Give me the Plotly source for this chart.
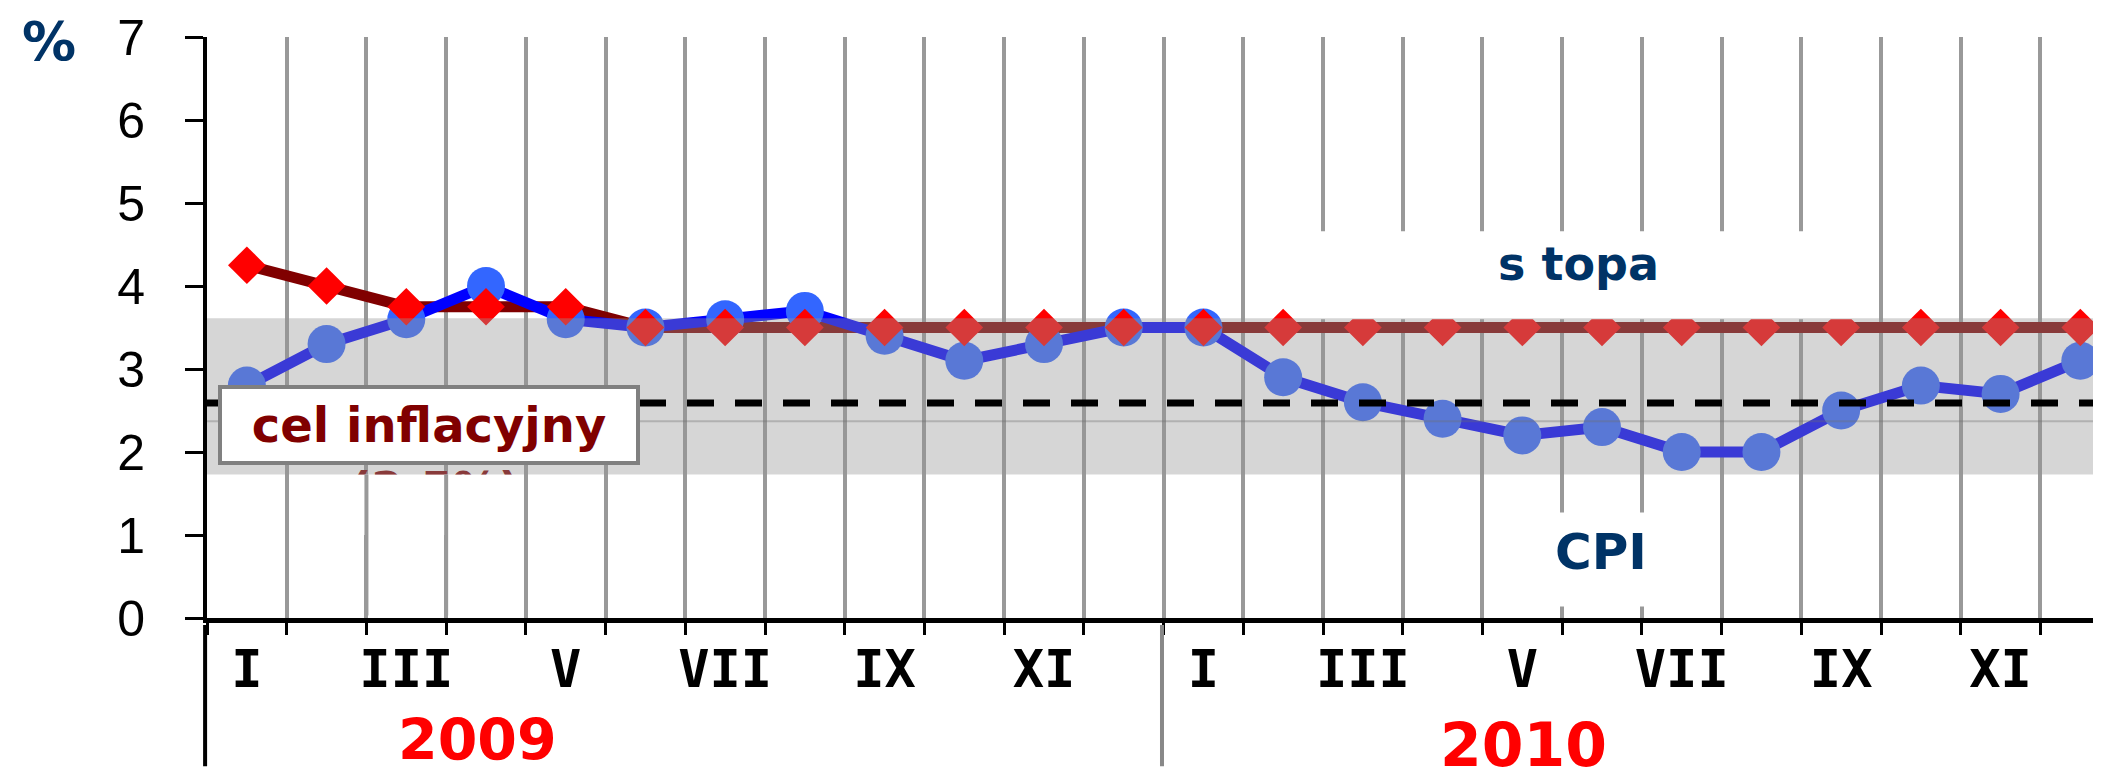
import plotly.graph_objects as go

# ---------------- data ----------------
months = ["I", "II", "III", "IV", "V", "VI", "VII", "VIII", "IX", "X", "XI", "XII"] * 2
cpi = [2.8, 3.3, 3.6, 4.0, 3.6, 3.5, 3.6, 3.7, 3.4, 3.1, 3.3, 3.5,
       3.5, 2.9, 2.6, 2.4, 2.2, 2.3, 2.0, 2.0, 2.5, 2.8, 2.7, 3.1]
stopa = [4.25, 4.0, 3.75, 3.75, 3.75, 3.5, 3.5, 3.5, 3.5, 3.5, 3.5, 3.5,
         3.5, 3.5, 3.5, 3.5, 3.5, 3.5, 3.5, 3.5, 3.5, 3.5, 3.5, 3.5]
tick_idx = [0, 2, 4, 6, 8, 10, 12, 14, 16, 18, 20, 22]
tick_labels = [months[i] for i in tick_idx]
years = ["2009", "2010"]
target = 2.59          # dashed inflation-target line as drawn
band_low, band_high = 1.73, 3.61
band_split = 2.37
y_ticks = [0, 1, 2, 3, 4, 5, 6, 7]

x = list(range(len(cpi)))
XMAX = 23.36

NAVY = "#003366"
DARKRED = "#800000"

fig = go.Figure()
fig.add_trace(go.Scatter(x=x, y=stopa, mode="lines",
                         line=dict(color=DARKRED, width=11), hoverinfo="skip"))
fig.add_trace(go.Scatter(x=x, y=cpi, mode="lines+markers",
                         line=dict(color="#0000FF", width=11),
                         marker=dict(symbol="circle", size=38, color="#3366FF")))
fig.add_trace(go.Scatter(x=x, y=stopa, mode="markers",
                         marker=dict(symbol="diamond", size=29, color="#FF0000")))
# partially hidden "(2,5%)" text
fig.add_trace(go.Scatter(x=[2.36], y=[1.50], mode="text", text=["(2,5%)"],
                         textposition="middle center",
                         textfont=dict(family="DejaVu Sans", size=46,
                                       color=DARKRED, weight="bold"),
                         hoverinfo="skip"))

shapes = [
    # white background behind "stopa"
    dict(type="rect", xref="x", yref="y", x0=13.23, x1=20.25, y0=3.60, y1=4.66,
         fillcolor="white", line=dict(width=0), layer="above"),
    # white background behind "CPI"
    dict(type="rect", xref="x", yref="y", x0=15.57, x1=18.33, y0=0.14, y1=1.27,
         fillcolor="white", line=dict(width=0), layer="above"),
    # white cover hiding the lower part of "(2,5%)"
    dict(type="rect", xref="x", yref="y", x0=1.15, x1=3.45, y0=1.0, y1=band_low,
         fillcolor="white", line=dict(width=0), layer="above"),
    dict(type="line", xref="x", yref="y", x0=1.5, x1=1.5, y0=0.03, y1=band_low,
         line=dict(color="#999999", width=4), layer="above"),
    dict(type="line", xref="x", yref="y", x0=2.5, x1=2.5, y0=0.03, y1=band_low,
         line=dict(color="#999999", width=4), layer="above"),
    # tolerance band
    dict(type="rect", xref="x", yref="y", x0=-0.5, x1=XMAX + 1, y0=band_low, y1=band_high,
         fillcolor="rgb(150,150,150)", opacity=0.39, line=dict(width=0), layer="above"),
    dict(type="line", xref="x", yref="y", x0=-0.5, x1=XMAX + 1, y0=band_split, y1=band_split,
         line=dict(color="rgba(110,110,110,0.35)", width=2), layer="above"),
    # inflation target
    dict(type="line", xref="x", yref="y", x0=-0.5, x1=XMAX + 1, y0=target, y1=target,
         line=dict(color="black", width=7, dash="27px,21px"), layer="above"),
    # year separators under the axis
    dict(type="line", xref="paper", yref="paper", x0=-0.001, x1=-0.001, y0=-0.012, y1=-0.255,
         line=dict(color="black", width=4), layer="above"),
    dict(type="line", xref="x", yref="paper", x0=11.48, x1=11.48, y0=-0.012, y1=-0.255,
         line=dict(color="#888888", width=4), layer="above"),
]

bold = dict(family="DejaVu Sans", weight="bold")
annotations = [
    dict(x=16.70, y=4.27, xref="x", yref="y", text="s topa", showarrow=False,
         xanchor="center", yanchor="middle",
         font=dict(**bold, size=46, color=NAVY)),
    dict(x=16.99, y=0.80, xref="x", yref="y", text="CPI", showarrow=False,
         xanchor="center", yanchor="middle",
         font=dict(**bold, size=50, color=NAVY)),
    dict(x=2.28, y=2.33, xref="x", yref="y", text="cel inflacyjny", showarrow=False,
         xanchor="center", yanchor="middle",
         font=dict(**bold, size=48, color=DARKRED),
         bgcolor="white", bordercolor="#808080", borderwidth=4, borderpad=0,
         width=414, height=72),
    dict(x=-0.083, y=1.0499, xref="paper", yref="paper", text="%", showarrow=False,
         xanchor="center", yanchor="top",
         font=dict(**bold, size=54, color=NAVY)),
    dict(x=2.89, y=-0.210, xref="x", yref="paper", text=years[0], showarrow=False,
         xanchor="center", yanchor="middle",
         font=dict(**bold, size=57, color="#FF0000")),
    dict(x=16.01, y=-0.2186, xref="x", yref="paper", text=years[1], showarrow=False,
         xanchor="center", yanchor="middle",
         font=dict(**bold, size=60, color="#FF0000")),
]

fig.update_layout(
    width=2101, height=780,
    margin=dict(l=199, r=0, t=29, b=170, pad=0),
    paper_bgcolor="white", plot_bgcolor="white",
    showlegend=False,
    shapes=shapes, annotations=annotations,
    xaxis=dict(range=[-0.5, XMAX], tickmode="array", tickvals=tick_idx, ticktext=tick_labels,
               ticks="", ticklen=0, showgrid=False, zeroline=False, automargin=False,
               showline=True, linecolor="black", linewidth=5,
               tickfont=dict(family="DejaVu Sans Mono", size=52, color="black", weight="bold"),
               ticklabelstandoff=2,
               minor=dict(tick0=0.5, dtick=1, ticks="outside", ticklen=12, tickwidth=3,
                          tickcolor="black", showgrid=True, gridcolor="#999999", gridwidth=4)),
    yaxis=dict(range=[0, 7], tickmode="array", tickvals=y_ticks, automargin=False,
               ticks="outside", ticklen=18, tickwidth=3, tickcolor="black",
               showline=True, linecolor="black", linewidth=4,
               showgrid=False, zeroline=False,
               tickfont=dict(family="Liberation Sans", size=50, color="black"),
               ticklabelstandoff=30),
)

fig.write_html("out.html")
